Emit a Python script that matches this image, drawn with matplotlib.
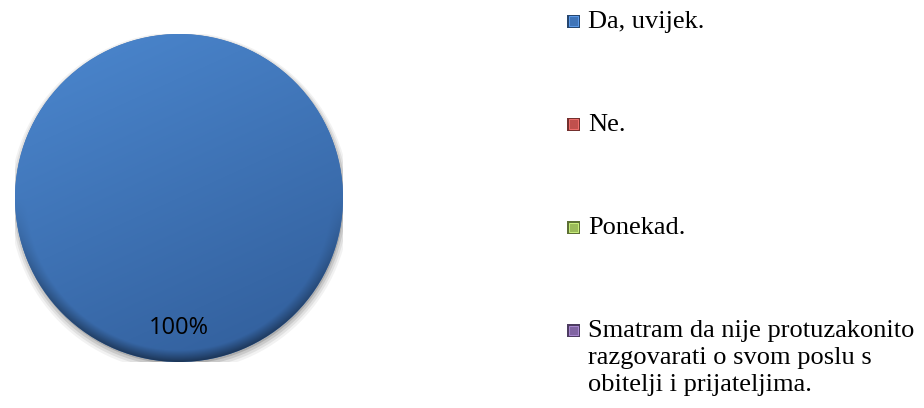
import numpy as np
import matplotlib
matplotlib.use("Agg")
import matplotlib.pyplot as plt
from matplotlib.patches import Rectangle, Circle
import matplotlib.colors as mcolors

# data
labels = ["Da, uvijek.", "Ne.", "Ponekad.",
          "Smatram da nije protuzakonito\nrazgovarati o svom poslu s\nobitelji i prijateljima."]
values = [100, 0, 0, 0]
colors = ["#3F74B8", "#C0504D", "#9BBB59", "#8064A2"]

W, H = 924, 408
fig = plt.figure(figsize=(W / 100, H / 100), dpi=100)
fig.patch.set_facecolor("white")

# pie axes: centre (179,198) px, radius 165 px
cx, cy, r = 179, 198, 164
ax = fig.add_axes([(cx - r) / W, (H - cy - r) / H, 2 * r / W, 2 * r / H])

# soft shadow under the pie
for i, a in enumerate([0.05, 0.07, 0.10, 0.14]):
    ax.add_patch(Circle((0.005, -0.025 + i * 0.004), 1.0 + 0.012 * (3 - i),
                        facecolor="#000000", edgecolor="none", alpha=a, zorder=0))


def pct(p):
    return f"{p:.0f}%" if p > 0 else ""


wedges, texts, autotexts = ax.pie(values, colors=colors, startangle=90,
                                  counterclock=False, autopct=pct,
                                  pctdistance=0.79, radius=1.0,
                                  textprops=dict(family="Open Sans", fontsize=17,
                                                 color="black"))
for w in wedges:
    w.set_zorder(1)
    w.set_edgecolor("none")

# lighting gradient clipped to the disk
yy, xx = np.mgrid[1:-1:300j, -1:1:300j]
shade = 0.55 * yy - 0.25 * xx
top = np.array([0x4C, 0x88, 0xD0]) / 255.0
bot = np.array([0x30, 0x5C, 0x98]) / 255.0
t = (shade - shade.min()) / (shade.max() - shade.min())
img = bot[None, None, :] * (1 - t[..., None]) + top[None, None, :] * t[..., None]
# darker rim at the bottom edge
rr = np.sqrt(xx ** 2 + yy ** 2)
rim = np.clip((rr - 0.93) / 0.07, 0, 1) * np.clip(-yy, 0, 1)
img = img * (1 - 0.45 * rim[..., None])
im = ax.imshow(img, extent=[-1, 1, -1, 1], zorder=1.5, interpolation="bilinear")
im.set_clip_path(wedges[0])
for t_ in autotexts:
    t_.set_zorder(3)

ax.set_xlim(-1, 1)
ax.set_ylim(-1, 1)
ax.set_aspect("auto")
ax.axis("off")

# legend, drawn by hand so the marker sits on the first line
x_mark, x_text = 567, 588
y0, step = 21, 103
ms = 13
for i, (lab, col) in enumerate(zip(labels, colors)):
    yc = y0 + i * step
    rgb = np.array(mcolors.to_rgb(col))
    dark = tuple(rgb * 0.6)
    light = tuple(np.clip(rgb * 1.25 + 0.08, 0, 1))
    fig.add_artist(Rectangle((x_mark / W, 1 - (yc + ms / 2) / H), ms / W, ms / H,
                             facecolor=dark, edgecolor="none",
                             transform=fig.transFigure))
    fig.add_artist(Rectangle(((x_mark + 2) / W, 1 - (yc + ms / 2 - 2) / H),
                             (ms - 4) / W, (ms - 4) / H,
                             facecolor=col, edgecolor=light, lw=0.6,
                             transform=fig.transFigure))
    fig.text(x_text / W, 1 - (yc - 10) / H, lab, family="Liberation Serif",
             fontsize=19, va="top", ha="left", linespacing=1.3)

fig.savefig("out.png", dpi=100, facecolor="white")
